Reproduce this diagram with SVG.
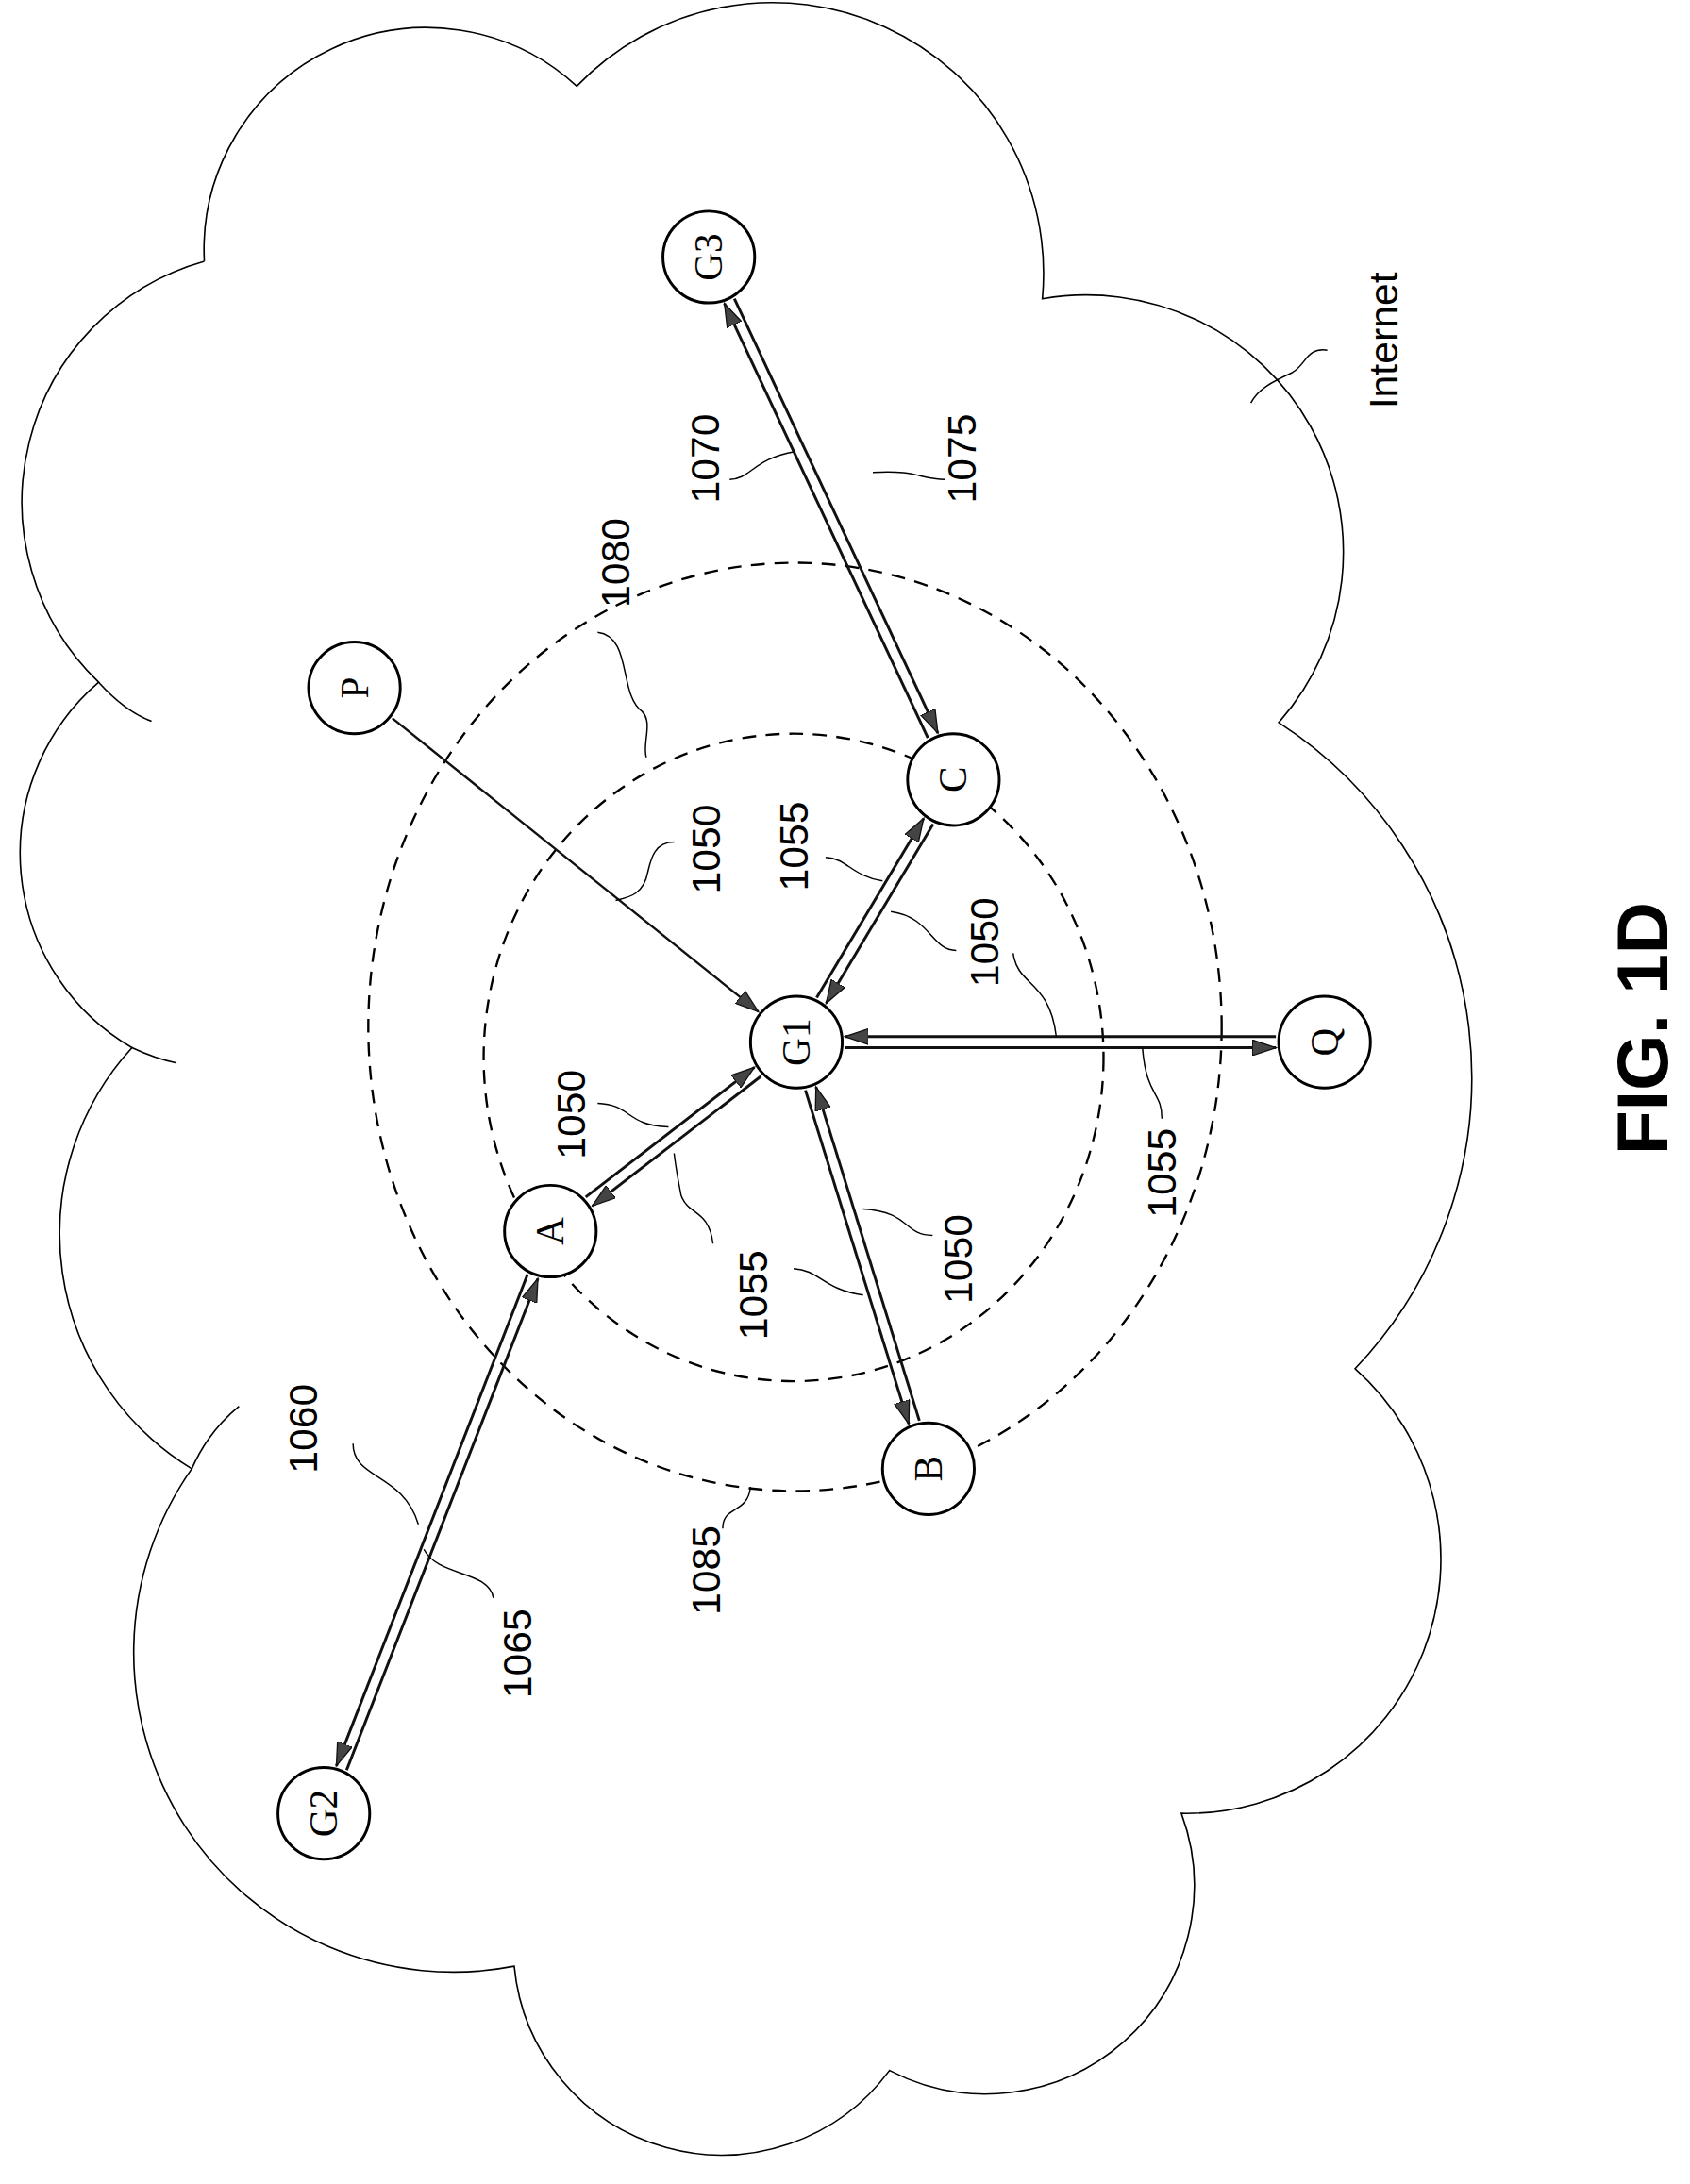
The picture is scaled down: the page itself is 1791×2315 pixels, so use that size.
<svg xmlns="http://www.w3.org/2000/svg" width="1791" height="2315" viewBox="0 0 1791 2315">
<style>
.cloud{fill:none;stroke:#000;stroke-width:1.1}
.ring{fill:none;stroke:#000;stroke-width:1.6;stroke-dasharray:10 7}
.node circle{fill:#fff;stroke:#000;stroke-width:2}
.node text{font-family:"Liberation Serif",serif;font-size:28px;text-anchor:middle;dominant-baseline:central}
.ln{stroke:#111;stroke-width:2;fill:none;marker-end:url(#ah)}
.ld{fill:none;stroke:#000;stroke-width:1}
.lb{font-family:"Liberation Sans",Arial,sans-serif;font-size:29px;text-anchor:middle;dominant-baseline:central}
</style>
<defs>
<marker id="ah" markerUnits="userSpaceOnUse" markerWidth="18" markerHeight="12" refX="15" refY="5" orient="auto" viewBox="0 0 16 10">
<path d="M0,0 L15,5 L0,10 Z" fill="#444" stroke="#111" stroke-width="0.8"/>
</marker>
</defs>
<rect width="1791" height="2315" fill="#fff"/>
<g transform="scale(1.4729)">
<path class="cloud" d="M147,188 A160,160 0 0 1 415,62 A195,195 0 0 1 750,215 A185,185 0 0 1 920,520 A304,304 0 0 1 975,985 A183,183 0 0 1 850,1305 A150,150 0 0 1 640,1490 A150,150 0 0 1 370,1415 A230,230 0 0 1 138,1057 A198,198 0 0 1 95,754 A162,162 0 0 1 71,491 A180,180 0 0 1 147,188"/>
<path class="cloud" d="M71,491 Q90,512 109,519 M95,754 Q112,762 127,765 M138,1057 Q150,1030 172,1012"/>
<ellipse class="ring" cx="571" cy="761" rx="223" ry="233"/>
<ellipse class="ring" cx="572" cy="739" rx="307" ry="334"/>
<g id="connectors">
<line class="ln" x1="671.4" y1="593.1" x2="594.4" y2="722.1"/>
<line class="ln" x1="587.6" y1="717.9" x2="664.6" y2="588.9"/>
<line class="ln" x1="421.4" y1="861.5" x2="542.8" y2="768.1"/>
<line class="ln" x1="547.6" y1="774.5" x2="426.2" y2="867.9"/>
<line class="ln" x1="579.5" y1="784.6" x2="653.9" y2="1024.8"/>
<line class="ln" x1="661.5" y1="1022.4" x2="587.1" y2="782.2"/>
<line class="ln" x1="918" y1="746" x2="608" y2="746"/>
<line class="ln" x1="608" y1="754" x2="918" y2="754"/>
<line class="ln" x1="379.6" y1="917.1" x2="242" y2="1270.9"/>
<line class="ln" x1="249.4" y1="1273.9" x2="387" y2="920.1"/>
<line class="ln" x1="667.6" y1="531" x2="521.2" y2="218.4"/>
<line class="ln" x1="528.4" y1="215" x2="674.8" y2="527.6"/>
<line class="ln" x1="282.3" y1="516.9" x2="545.7" y2="728.1" style="stroke-width:1.6"/>
<path class="ld" d="M430,455 C455,458 445,500 462,512 C470,520 462,535 465,545"/>
<path class="ld" d="M525,345 C540,345 542,330 572,325"/>
<path class="ld" d="M680,345 C662,345 660,338 628,340"/>
<path class="ld" d="M485,606 C470,606 468,620 466,628 C463,645 450,646 443,648"/>
<path class="ld" d="M594,617 C610,618 612,630 635,634"/>
<path class="ld" d="M688,684 C670,684 670,660 641,656"/>
<path class="ld" d="M729,686 C732,710 755,705 760,746"/>
<path class="ld" d="M836,805 C836,785 825,790 822,754"/>
<path class="ld" d="M430,794 C455,795 450,810 481,811"/>
<path class="ld" d="M513,895 C510,870 495,875 490,860 C487,845 486,838 485,830"/>
<path class="ld" d="M571,913 C590,914 592,928 621,932"/>
<path class="ld" d="M671,889 C650,889 655,872 621,870"/>
<path class="ld" d="M254,1039 C254,1065 290,1060 301,1097"/>
<path class="ld" d="M355,1150 C352,1130 315,1135 305,1115"/>
<path class="ld" d="M520,1100 C520,1083 538,1090 540,1070"/>
<path class="ld" d="M955,252 C940,250 940,262 930,268 C915,275 905,280 900,290"/>
</g>
<g id="labels">
<text class="lb" transform="translate(443,405) rotate(-90)">1080</text>
<text class="lb" transform="translate(507,330) rotate(-90)">1070</text>
<text class="lb" transform="translate(692,330) rotate(-90)">1075</text>
<text class="lb" transform="translate(508,611) rotate(-90)">1050</text>
<text class="lb" transform="translate(571,609) rotate(-90)">1055</text>
<text class="lb" transform="translate(708,678) rotate(-90)">1050</text>
<text class="lb" transform="translate(836,844) rotate(-90)">1055</text>
<text class="lb" transform="translate(411,802) rotate(-90)">1050</text>
<text class="lb" transform="translate(542,932) rotate(-90)">1055</text>
<text class="lb" transform="translate(689,906) rotate(-90)">1050</text>
<text class="lb" transform="translate(218,1028) rotate(-90)">1060</text>
<text class="lb" transform="translate(372,1190) rotate(-90)">1065</text>
<text class="lb" transform="translate(508,1130) rotate(-90)">1085</text>
<text class="lb" transform="translate(995,245) rotate(-90)">Internet</text>
<text class="lb" transform="translate(1182,740) rotate(-90)" style="font-size:52px;font-weight:bold">FIG. 1D</text>
</g>
<g id="G3" class="node"><circle cx="510" cy="185" r="33"/><text transform="translate(510,185) rotate(-90)">G3</text></g>
<g id="P" class="node"><circle cx="255" cy="495" r="33"/><text transform="translate(255,495) rotate(-90)">P</text></g>
<g id="C" class="node"><circle cx="686" cy="561" r="33"/><text transform="translate(686,561) rotate(-90)">C</text></g>
<g id="G1" class="node"><circle cx="573" cy="750" r="33"/><text transform="translate(573,750) rotate(-90)">G1</text></g>
<g id="Q" class="node"><circle cx="953" cy="750" r="33"/><text transform="translate(953,750) rotate(-90)">Q</text></g>
<g id="A" class="node"><circle cx="396" cy="886" r="33"/><text transform="translate(396,886) rotate(-90)">A</text></g>
<g id="B" class="node"><circle cx="668" cy="1057" r="33"/><text transform="translate(668,1057) rotate(-90)">B</text></g>
<g id="G2" class="node"><circle cx="233" cy="1305" r="33"/><text transform="translate(233,1305) rotate(-90)">G2</text></g>
</g>
</svg>
